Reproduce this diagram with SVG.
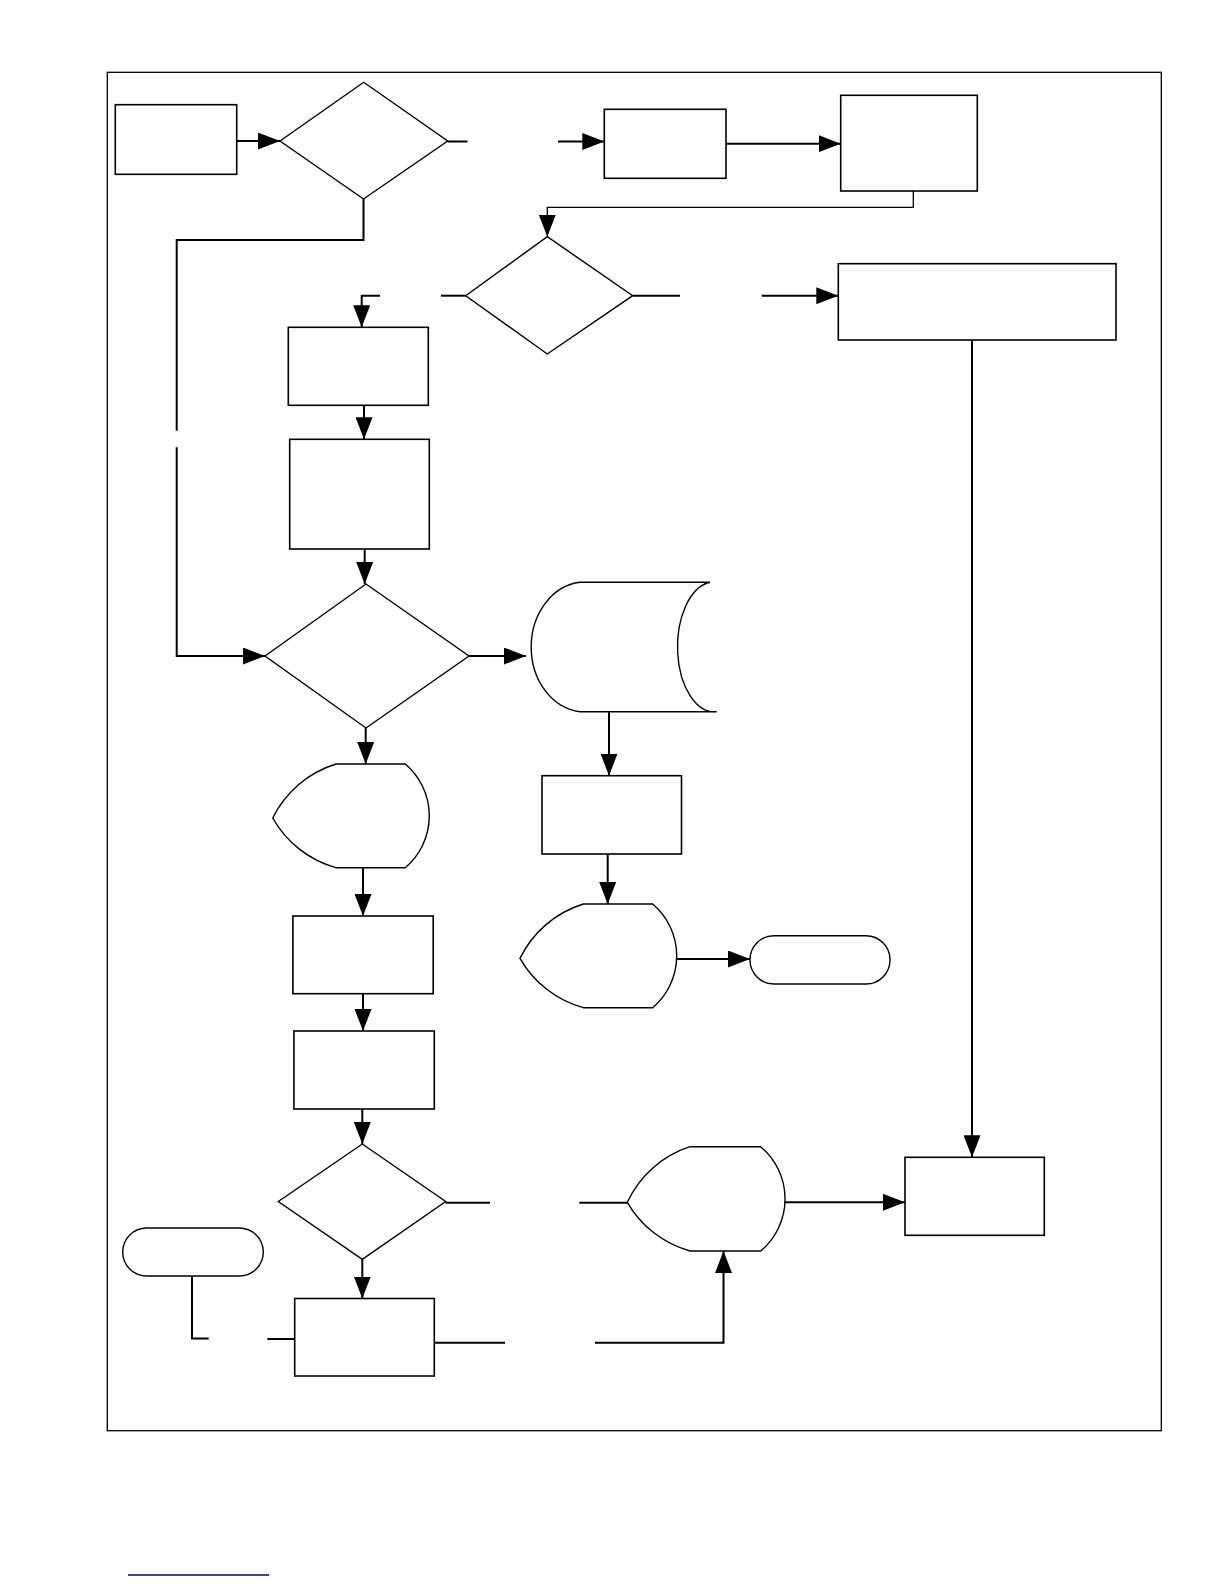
<svg xmlns="http://www.w3.org/2000/svg" width="1224" height="1584" viewBox="0 0 1224 1584">
<style>
.n{fill:#fff;stroke:#000;stroke-width:1.6}
.d{fill:#fff;stroke:#000;stroke-width:1.4;stroke-linejoin:miter}
.c{fill:none;stroke:#000;stroke-width:2}
.ct{fill:none;stroke:#000;stroke-width:1.3}
.a{marker-end:url(#ah)}
</style>
<defs>
<marker id="ah" markerUnits="userSpaceOnUse" markerWidth="23" markerHeight="17" refX="22" refY="8.5" orient="auto">
<path d="M0,0 L22,8.5 L0,17 Z" fill="#000"/>
</marker>
</defs>
<rect width="1224" height="1584" fill="#fff"/>
<rect id="frame" x="107.3" y="72.3" width="1054" height="1358.4" fill="none" stroke="#000" stroke-width="1.3"/>

<g id="connectors">
<path class="c a" d="M236.7,141 H280"/>
<path class="c" d="M447.7,141.5 H467.5"/>
<path class="c a" d="M558,141.5 H604.3"/>
<path class="c a" d="M726,143.7 H840.7"/>
<path class="ct a" d="M913.3,191 V207.3 H547.3 V236.7"/>
<path class="c" d="M363.5,199 V240 H176.7 V430.7"/>
<path class="c a" d="M176.7,447.3 V656 H265"/>
<path class="c" d="M465.7,295.7 H441"/>
<path class="c a" d="M380,295.7 H361.7 V327.3"/>
<path class="c" d="M632.7,295.7 H680"/>
<path class="c a" d="M761.7,295.7 H838.3"/>
<path class="c a" d="M972,340 V1157.3"/>
<path class="c a" d="M364,405.3 V439.3"/>
<path class="c a" d="M364.7,549 V584"/>
<path class="c a" d="M469,656 H526"/>
<path class="c a" d="M365.7,728 V764"/>
<path class="c a" d="M609,712 V775.7"/>
<path class="c a" d="M607.7,854 V904"/>
<path class="c a" d="M676.7,959 H750"/>
<path class="c a" d="M363,868 V916"/>
<path class="c a" d="M363,994 V1031"/>
<path class="c a" d="M362.3,1109 V1144"/>
<path class="c" d="M445.7,1202.7 H490"/>
<path class="c" d="M579.3,1202.7 H627.7"/>
<path class="c a" d="M784,1202.3 H905"/>
<path class="c a" d="M362.3,1259.3 V1298.5"/>
<path class="c" d="M434.3,1342.7 H505"/>
<path class="c a" d="M595,1342.7 H723.5 V1251"/>
<path class="c" d="M192,1276 V1338.5 H208.7"/>
<path class="c" d="M267.3,1339 H294.7"/>
</g>

<g id="box1"><rect class="n" x="115.3" y="104.7" width="121.4" height="69.6"/></g>
<g id="decision1"><polygon class="d" points="280,141 363.7,82.3 447.7,141 363.5,199"/></g>
<g id="box2"><rect class="n" x="604.3" y="109.3" width="121.7" height="69"/></g>
<g id="box5"><rect class="n" x="840.7" y="95.3" width="136.6" height="95.7" stroke-width="2"/></g>
<g id="decision2"><polygon class="d" points="465.7,295.7 547.3,236.7 632.7,295.7 547.3,354"/></g>
<g id="box6"><rect class="n" x="838.3" y="263.7" width="277.7" height="76.3" stroke-width="2"/></g>
<g id="box3"><rect class="n" x="288.3" y="327.3" width="140" height="78"/></g>
<g id="box4"><rect class="n" x="289.7" y="439.3" width="139.6" height="109.7"/></g>
<g id="decision3"><polygon class="d" points="265,656 366,584 469,656 366,728"/></g>
<g id="storedData"><path class="d" d="M580,582.3 H710 A37,65 0 0 0 716.7,711.7 H580 A54,65 0 0 1 580,582.3 Z"/></g>
<g id="display2"><path class="d" d="M336,764 H405.3 A68,68 0 0 1 405.3,867.7 H336 A105,105 0 0 1 272.7,818 A105,105 0 0 1 336,764 Z"/></g>
<g id="box7"><rect class="n" x="542" y="775.7" width="139.5" height="78.3"/></g>
<g id="display1"><path class="d" d="M583.3,904 H652.7 A68,68 0 0 1 652.7,1007.7 H583.3 A105,105 0 0 1 520,958.3 A105,105 0 0 1 583.3,904 Z"/></g>
<g id="terminator1"><rect class="d" x="750" y="935.7" width="140" height="48.3" rx="24" ry="24"/></g>
<g id="box8"><rect class="n" x="292.9" y="916" width="140.3" height="77.7"/></g>
<g id="box9"><rect class="n" x="293.9" y="1031" width="140.4" height="78"/></g>
<g id="decision4"><polygon class="d" points="278.3,1201.5 362.3,1144 445.7,1201.5 362.3,1259.3"/></g>
<g id="display3"><path class="d" d="M690,1146.7 H760.7 A68,68 0 0 1 760.7,1251 H690 A105,105 0 0 1 627.3,1202.3 A105,105 0 0 1 690,1146.7 Z"/></g>
<g id="boxFinal"><rect class="n" x="905" y="1157.3" width="139.3" height="78"/></g>
<g id="box10"><rect class="n" x="294.7" y="1298.5" width="139.6" height="77.5"/></g>
<g id="terminator2"><rect class="d" x="122.7" y="1228" width="140.6" height="48" rx="24" ry="24"/></g>

<line id="footerLink" x1="128" y1="1575" x2="269" y2="1575" stroke="#000080" stroke-width="1.3"/>
</svg>
